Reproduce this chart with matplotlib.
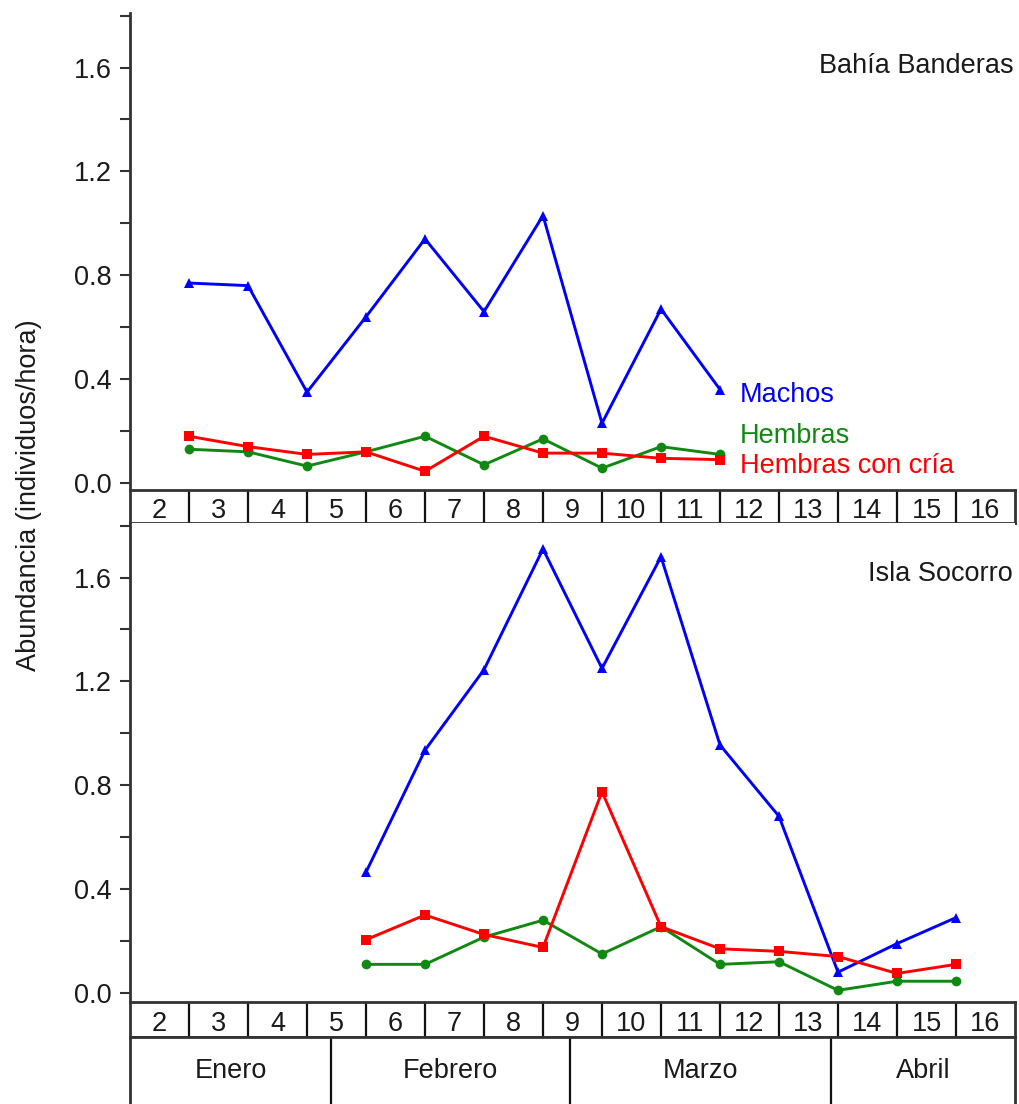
import matplotlib
matplotlib.use("Agg")
import matplotlib.pyplot as plt
from matplotlib.ticker import MultipleLocator

plt.rcParams['font.family'] = ['Liberation Sans', 'DejaVu Sans']

# ---------------- data ----------------
# x positions: point at right edge of week-box (box of week w spans [w-1, w])
x_bahia = [2, 3, 4, 5, 6, 7, 8, 9, 10, 11]
machos_bahia = [0.77, 0.76, 0.35, 0.64, 0.94, 0.66, 1.03, 0.23, 0.67, 0.36]
hembras_bahia = [0.13, 0.12, 0.065, 0.12, 0.18, 0.07, 0.17, 0.057, 0.14, 0.11]
cria_bahia = [0.18, 0.14, 0.11, 0.12, 0.045, 0.18, 0.115, 0.115, 0.095, 0.09]

x_socorro = [5, 6, 7, 8, 9, 10, 11, 12, 13, 14, 15]
machos_socorro = [0.465, 0.935, 1.245, 1.71, 1.25, 1.68, 0.955, 0.68, 0.08, 0.19, 0.29]
hembras_socorro = [0.11, 0.11, 0.215, 0.28, 0.15, 0.255, 0.11, 0.12, 0.01, 0.045, 0.045]
cria_socorro = [0.205, 0.30, 0.225, 0.175, 0.775, 0.255, 0.17, 0.16, 0.14, 0.075, 0.11]

semanas = list(range(2, 17))
meses = ['Enero', 'Febrero', 'Marzo', 'Abril']
limites_meses = [1, 4.41, 8.46, 12.88, 16]

series_names = ['Machos', 'Hembras', 'Hembras con cría']
colors = ['#0000FF', '#118811', '#FF0000']
markers = ['^', 'o', 's']

W, H = 1019, 1104
fig = plt.figure(figsize=(W / 100, H / 100), dpi=100)

def fy(px):
    return 1 - px / H

left = 130 / W
right = 1015 / W
width = right - left

ax_line_c = '#333333'
tick_c = '#1a1a1a'
FS = 19.5

def setup_panel(ax, title, title_y):
    ax.set_xlim(1, 16)
    ax.set_ylim(-0.027, 1.81)
    for s in ['top', 'right', 'bottom']:
        ax.spines[s].set_visible(False)
    ax.spines['left'].set_linewidth(2.0)
    ax.spines['left'].set_color(ax_line_c)
    ax.set_xticks([])
    ax.yaxis.set_minor_locator(MultipleLocator(0.2))
    ax.set_yticks([0.0, 0.4, 0.8, 1.2, 1.6])
    ax.set_yticklabels(['0.0', '0.4', '0.8', '1.2', '1.6'])
    ax.tick_params(axis='y', which='major', length=7, width=1.5, color=ax_line_c,
                   labelsize=FS, labelcolor=tick_c, pad=6)
    ax.tick_params(axis='y', which='minor', length=7, width=1.5, color=ax_line_c)
    ax.text(15.97, title_y, title, ha='right', va='baseline', fontsize=FS, color=tick_c)

def week_box(ax):
    ax.set_xlim(1, 16)
    ax.set_ylim(0, 1)
    ax.set_xticks([])
    ax.set_yticks([])
    for s in ax.spines.values():
        s.set_linewidth(2.0)
        s.set_color(ax_line_c)
    for b in range(2, 16):
        ax.axvline(b, color='#111111', lw=1.6)
    for w in semanas:
        ax.text(w - 0.5, 0.16, str(w), ha='center', va='baseline', fontsize=FS, color=tick_c)

def plot_series(ax, x, ys):
    for y, c, m in zip(ys, colors, markers):
        ax.plot(x, y, color=c, marker=m, lw=2.1, markersize=7 if m != '^' else 7,
                markeredgewidth=0, clip_on=False)

# Top panel
ax1 = fig.add_axes([left, fy(490), width, fy(13) - fy(490)])
setup_panel(ax1, 'Bahía Banderas', 1.58)
plot_series(ax1, x_bahia, [machos_bahia, hembras_bahia, cria_bahia])
label_y = [0.31, 0.153, 0.038]
for name, c, ly in zip(series_names, colors, label_y):
    ax1.text(11.34, ly, name, color=c, fontsize=FS, ha='left', va='baseline')

wb1 = fig.add_axes([left, fy(523), width, fy(490) - fy(523)])
week_box(wb1)

# Bottom panel
ax2 = fig.add_axes([left, fy(1002), width, fy(523) - fy(1002)])
setup_panel(ax2, 'Isla Socorro', 1.588)
ax2.set_ylim(-0.035, 1.81)
plot_series(ax2, x_socorro, [machos_socorro, hembras_socorro, cria_socorro])

wb2 = fig.add_axes([left, fy(1037), width, fy(1002) - fy(1037)])
week_box(wb2)

# Month box
mb = fig.add_axes([left, 0.0, width, fy(1037)])
mb.set_xlim(1, 16)
mb.set_ylim(0, 1)
mb.set_xticks([])
mb.set_yticks([])
mb.spines['bottom'].set_visible(False)
for s in ['left', 'right', 'top']:
    mb.spines[s].set_linewidth(2.0)
    mb.spines[s].set_color(ax_line_c)
for b in limites_meses[1:-1]:
    mb.axvline(b, color='#111111', lw=1.6)
for i, m in enumerate(meses):
    cx = (limites_meses[i] + limites_meses[i + 1]) / 2
    mb.text(cx, 0.5, m, ha='center', va='center', fontsize=FS, color=tick_c)

fig.text(29 / W, fy(495), 'Abundancia (individuos/hora)', rotation=90,
         ha='center', va='center', fontsize=FS, color=tick_c)

fig.savefig('out.png', dpi=100)
